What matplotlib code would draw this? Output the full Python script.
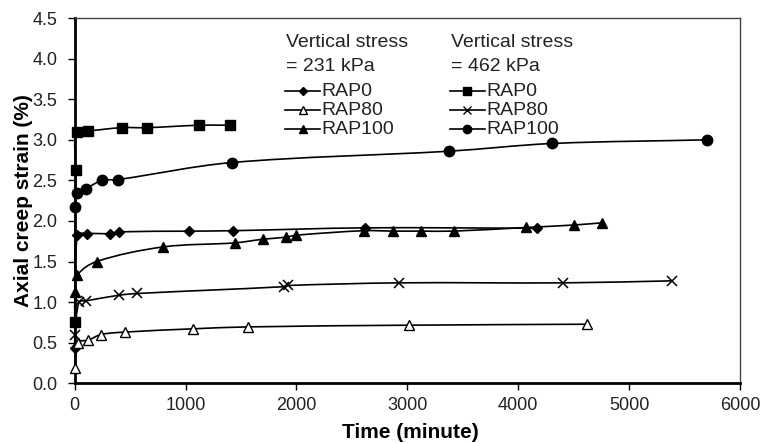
import numpy as np
import matplotlib
matplotlib.use("Agg")
import matplotlib.pyplot as plt
from matplotlib.path import Path
from matplotlib.patches import PathPatch
from matplotlib.lines import Line2D

plt.rcParams['font.family'] = ['Liberation Sans', 'DejaVu Sans']

# --- data (time in minutes, strain in %) ---
# vertical stress = 231 kPa
t_231_rap0 = [0, 23, 108, 318, 402, 1033, 1425, 2618, 4170]
e_231_rap0 = [0.43, 1.83, 1.845, 1.845, 1.866, 1.874, 1.88, 1.915, 1.91]

t_231_rap80 = [0, 33, 123, 237, 453, 1063, 1565, 3018, 4624]
e_231_rap80 = [0.19, 0.50, 0.53, 0.60, 0.63, 0.67, 0.694, 0.715, 0.727]

t_231_rap100 = [0, 23, 198, 799, 1445, 1700, 1905, 2000, 2608, 2873, 3120,
                3420, 4075, 4502, 4755]
e_231_rap100 = [1.125, 1.33, 1.50, 1.68, 1.73, 1.775, 1.80, 1.825, 1.88,
                1.875, 1.875, 1.875, 1.92, 1.95, 1.977]

# vertical stress = 462 kPa
t_462_rap0 = [0, 9, 18, 123, 423, 649, 1123, 1400]
e_462_rap0 = [0.75, 2.63, 3.10, 3.11, 3.15, 3.15, 3.18, 3.18]

t_462_rap80 = [0, 40, 102, 402, 565, 1890, 1925, 2927, 4406, 5392]
e_462_rap80 = [0.60, 1.0, 1.015, 1.085, 1.106, 1.19, 1.205, 1.237, 1.237, 1.262]

t_462_rap100 = [0, 18, 102, 249, 388, 1416, 3375, 4306, 5699]
e_462_rap100 = [2.17, 2.34, 2.40, 2.50, 2.51, 2.72, 2.86, 2.955, 3.00]

labels = ['RAP0', 'RAP80', 'RAP100']

# marker styles: (marker, size, facecolor)
styles_231 = [('D', 5.5, 'black'), ('^', 7, 'white'), ('^', 7.5, 'black')]
styles_462 = [('s', 7.5, 'black'), ('x', 7, 'black'), ('o', 7.5, 'black')]

XMAX, YMAX = 6000, 4.5
# rough pixel size of the plot area, used so smoothing is done in screen space
SX, SY = 665 / XMAX, 365 / YMAX


def smooth_path(x, y):
    # smoothed line like a spreadsheet chart: tangent from neighbours,
    # handle length scaled to the segment so short steps don't overshoot
    pts = np.column_stack([np.asarray(x) * SX, np.asarray(y) * SY])
    n = len(pts)
    tang = []
    for i in range(n):
        d = pts[min(i + 1, n - 1)] - pts[max(i - 1, 0)]
        tang.append(d / (np.hypot(*d) or 1))
    verts = [pts[0]]
    codes = [Path.MOVETO]
    for i in range(n - 1):
        p1, p2 = pts[i], pts[i + 1]
        L = np.hypot(*(p2 - p1)) / 3
        verts += [p1 + tang[i] * L, p2 - tang[i + 1] * L, p2]
        codes += [Path.CURVE4] * 3
    verts = np.array(verts) / [SX, SY]
    return Path(verts, codes)


fig = plt.figure(figsize=(7.62, 4.43), dpi=100)
ax = fig.add_axes([0.098, 0.135, 0.873, 0.824])

series = [
    (t_231_rap0, e_231_rap0, styles_231[0]),
    (t_231_rap80, e_231_rap80, styles_231[1]),
    (t_231_rap100, e_231_rap100, styles_231[2]),
    (t_462_rap0, e_462_rap0, styles_462[0]),
    (t_462_rap80, e_462_rap80, styles_462[1]),
    (t_462_rap100, e_462_rap100, styles_462[2]),
]

for t, e, (mk, ms, fc) in series:
    ax.add_patch(PathPatch(smooth_path(t, e), fill=False, edgecolor='black',
                           lw=1.2, zorder=2, clip_on=False))
    ax.plot(t, e, linestyle='none', marker=mk, markersize=ms,
            markerfacecolor=fc, markeredgecolor='black',
            markeredgewidth=1.0 if mk != 'x' else 1.1, zorder=3, clip_on=False)

ax.set_xlim(0, XMAX)
ax.set_ylim(0, YMAX)
ax.set_xticks(np.arange(0, 6001, 1000))
ax.set_yticks(np.arange(0, 4.51, 0.5))
ax.set_yticklabels([f'{v:.1f}' for v in np.arange(0, 4.51, 0.5)])
ax.tick_params(direction='out', length=5, width=1, labelsize=13,
               colors='black', labelcolor='#222222')
ax.tick_params(axis='y', pad=7.5)
ax.tick_params(axis='x', pad=5)

ax.spines['left'].set_linewidth(2)
ax.spines['bottom'].set_linewidth(2)
ax.spines['top'].set_linewidth(1)
ax.spines['right'].set_linewidth(1)
ax.spines['top'].set_color('#444444')
ax.spines['right'].set_color('#444444')

ax.set_xlabel('Time (minute)', fontsize=15, fontweight='bold')
ax.set_ylabel('Axial creep strain (%)', fontsize=15, fontweight='bold')
ax.xaxis.set_label_coords(0.504, -0.108)
ax.yaxis.set_label_coords(-0.062, 0.5)

# manual two-column legend
leg_fs = 14
cols = [(0.318, 0.316, 0.369, 0.371, '= 231 kPa', styles_231),
        (0.566, 0.564, 0.617, 0.619, '= 462 kPa', styles_462)]
row_y = [0.800, 0.748, 0.696]
for tx, x0, x1, lx, sub, sty in cols:
    ax.text(tx, 0.932, 'Vertical stress', transform=ax.transAxes,
            fontsize=leg_fs, va='center', ha='left', color='#222222')
    ax.text(tx, 0.868, sub, transform=ax.transAxes,
            fontsize=leg_fs, va='center', ha='left', color='#222222')
    for y, lab, (mk, ms, fc) in zip(row_y, labels, sty):
        ax.add_line(Line2D([x0, x1], [y, y], transform=ax.transAxes,
                           color='black', lw=1.2))
        ax.add_line(Line2D([(x0 + x1) / 2], [y], transform=ax.transAxes,
                           marker=mk, markersize=ms * 0.8, markerfacecolor=fc,
                           markeredgecolor='black', markeredgewidth=1.0,
                           linestyle='none'))
        ax.text(lx, y, lab, transform=ax.transAxes, fontsize=leg_fs,
                va='center', ha='left', color='#222222')

fig.savefig('out.png', dpi=100)
